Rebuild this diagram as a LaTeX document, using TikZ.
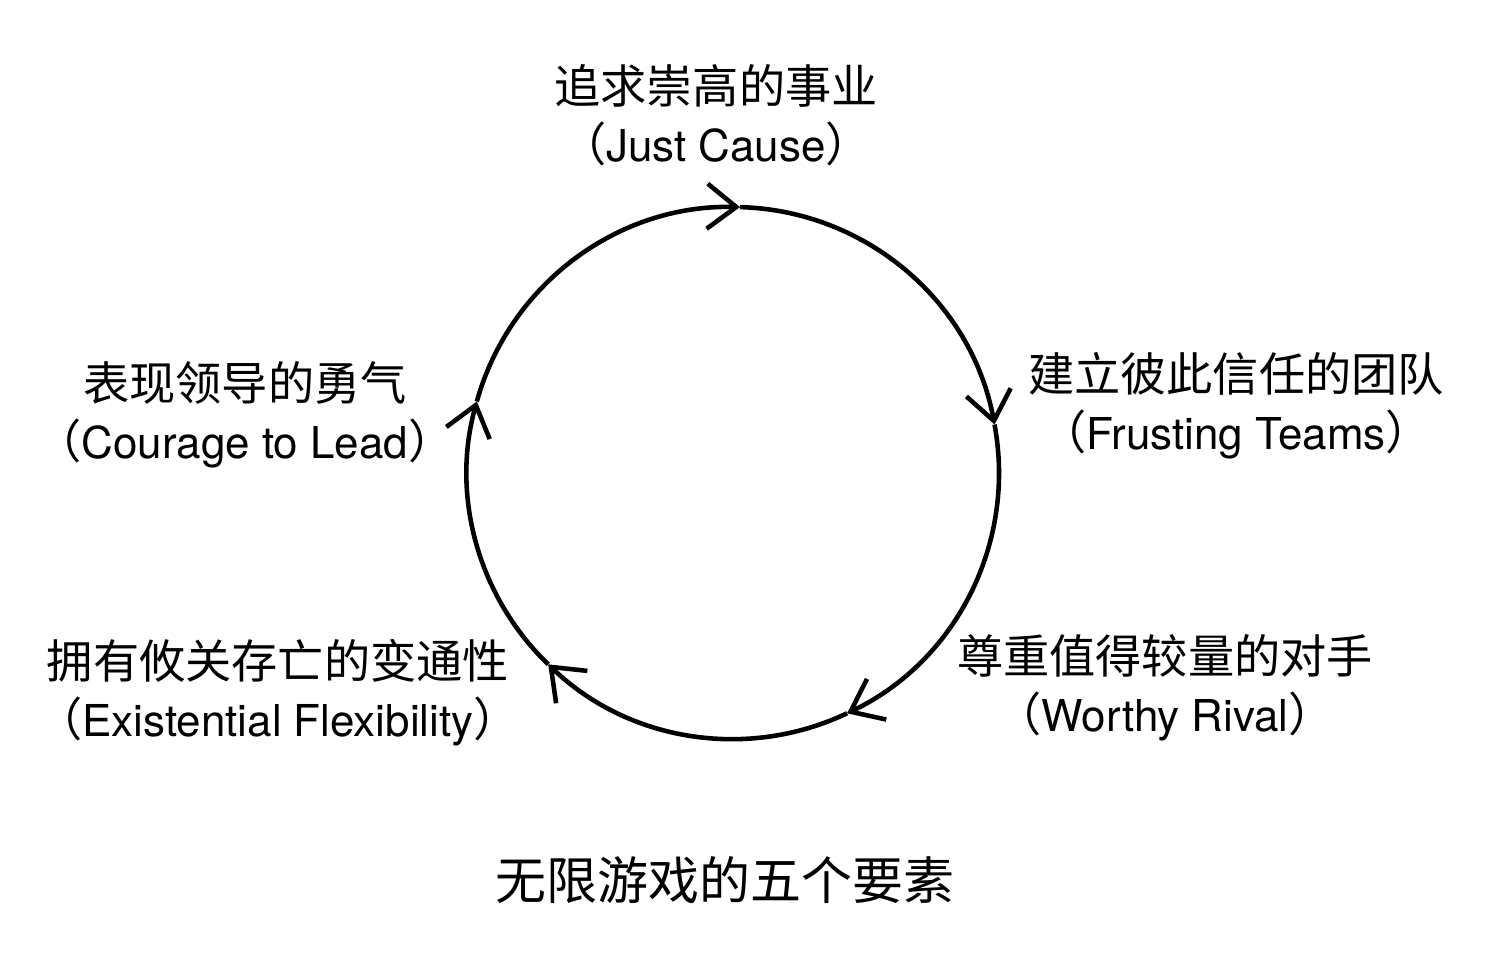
\documentclass[tikz,border=0pt]{standalone}
\usepackage{fontspec}
\setmainfont{TeX Gyre Heros}
\newfontfamily\cjk{Noto Sans CJK SC}
\newcommand{\zh}[1]{{\cjk\fontsize{26.3}{33}\selectfont #1}}
\usetikzlibrary{arrows.meta}

\begin{document}
\begin{tikzpicture}
    \tikzset{
        cyc/.style={line width=2.6pt, line cap=butt, -{Straight Barb[length=5.8mm, width=9mm]}},
        elem/.style={align=center, inner sep=0pt, font=\fontsize{25}{33}\selectfont}
    }
    \useasboundingbox (-14.66,-9.82) rectangle (15.42,9.46);

    % points on the cycle
    \coordinate (ptJust) at (88.5:5.32);
    \coordinate (ptTeams) at (10.5:5.32);
    \coordinate (ptRival) at (-64.6:5.32);
    \coordinate (ptFlex) at (-134:5.32);
    \coordinate (ptCourage) at (164.4:5.32);

    \draw[cyc] (ptJust) arc[start angle=88.5, end angle=10.5, radius=5.32];
    \draw[cyc] (ptTeams) arc[start angle=10.5, end angle=-64.6, radius=5.32];
    \draw[cyc] (ptRival) arc[start angle=-64.6, end angle=-134, radius=5.32];
    \draw[cyc] (ptFlex) arc[start angle=-134, end angle=-195.6, radius=5.32];
    \draw[cyc] (ptCourage) arc[start angle=164.4, end angle=88.5, radius=5.32];

    % labels
    \node[elem] (nodeJust) at (-0.34,7.16) {\zh{追求崇高的事业}\\\zh{（}Just Cause\zh{）}};
    \node[elem] (nodeTeams) at (10.06,1.34) {\zh{建立彼此信任的团队}\\\zh{（}Frusting Teams\zh{）}};
    \node[elem] (nodeRival) at (8.64,-4.30) {\zh{尊重值得较量的对手}\\\zh{（}Worthy Rival\zh{）}};
    \node[elem] (nodeFlex) at (-9.10,-4.40) {\zh{拥有攸关存亡的变通性}\\\zh{（}Existential Flexibility\zh{）}};
    \node[elem] (nodeCourage) at (-9.76,1.16) {\zh{表现领导的勇气}\\\zh{（}Courage to Lead\zh{）}};

    \node (caption) at (-0.16,-8.14) {\cjk\fontsize{29}{34}\selectfont 无限游戏的五个要素};
\end{tikzpicture}
\end{document}
